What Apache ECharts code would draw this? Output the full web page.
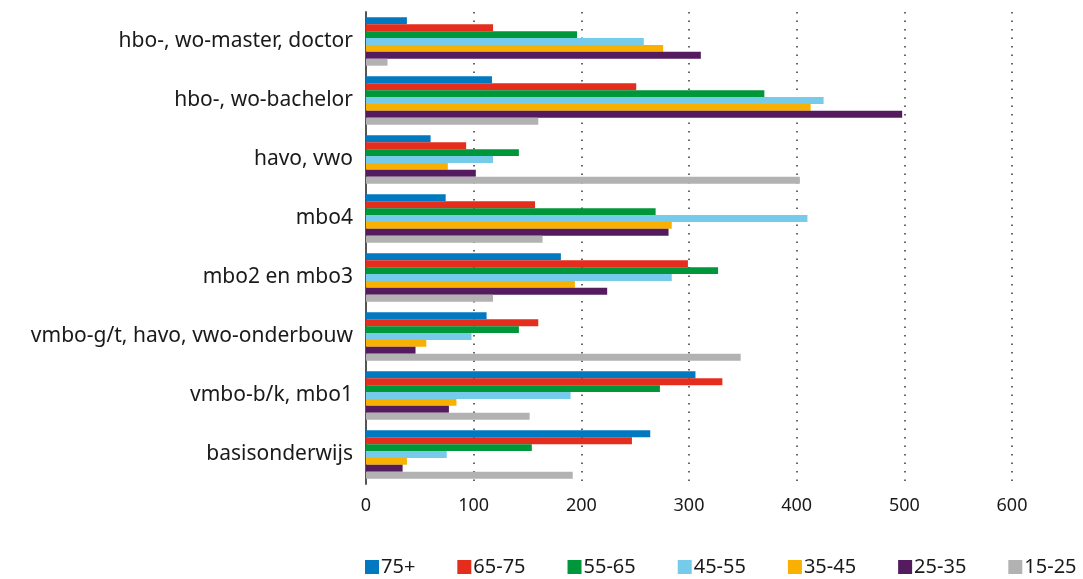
<!DOCTYPE html>
<html>
<head>
<meta charset="utf-8">
<script src="https://cdn.jsdelivr.net/npm/echarts@6/dist/echarts.min.js"></script>
<style>
  html, body { margin: 0; padding: 0; background: #fff; }
  #chart { width: 1083px; height: 579px; }
</style>
</head>
<body>
<div id="chart"></div>
<script>
  // categories, top to bottom
  let categories = ['hbo-, wo-master, doctor', 'hbo-, wo-bachelor', 'havo, vwo', 'mbo4',
    'mbo2 en mbo3', 'vmbo-g/t, havo, vwo-onderbouw', 'vmbo-b/k, mbo1', 'basisonderwijs'];
  let xTicks = [0, 100, 200, 300, 400, 500, 600];

  let age75plus = [38, 117, 60, 74, 181, 112, 306, 264];
  let age65_75 = [118, 251, 93, 157, 299, 160, 331, 247];
  let age55_65 = [196, 370, 142, 269, 327, 142, 273, 154];
  let age45_55 = [258, 425, 118, 410, 284, 98, 190, 75];
  let age35_45 = [276, 413, 76, 284, 194, 56, 84, 38];
  let age25_35 = [311, 498, 102, 281, 224, 46, 77, 34];
  let age15_25 = [20, 160, 403, 164, 118, 348, 152, 192];

  let seriesDefs = [
    {name: '75+', color: '#0079c1', data: age75plus},
    {name: '65-75', color: '#e52d1d', data: age65_75},
    {name: '55-65', color: '#00963a', data: age55_65},
    {name: '45-55', color: '#77cbea', data: age45_55},
    {name: '35-45', color: '#f9b000', data: age35_45},
    {name: '25-35', color: '#541b5f', data: age25_35},
    {name: '15-25', color: '#b2b2b2', data: age15_25}
  ];

  let font = 'Noto Sans';

  let option = {
    animation: false,
    grid: {left: 366, right: 71, top: 12, bottom: 95},
    legend: {
      top: 552,
      left: 360,
      itemWidth: 14,
      itemHeight: 14,
      itemGap: 42,
      icon: 'rect',
      textStyle: {fontFamily: font, fontSize: 20, color: '#1a1a1a', padding: [0, 0, 0, -3]},
      data: seriesDefs.map(s => s.name)
    },
    xAxis: {
      type: 'value',
      min: xTicks[0],
      max: xTicks[xTicks.length - 1],
      interval: 100,
      axisLine: {show: false},
      axisTick: {show: false},
      axisLabel: {fontFamily: font, fontSize: 18, color: '#1a1a1a', margin: 13},
      splitLine: {show: true, lineStyle: {color: '#333', width: 1.5, type: [1.5, 7]}}
    },
    yAxis: {
      type: 'category',
      inverse: true,
      data: categories,
      axisLine: {show: true, lineStyle: {color: '#555', width: 2}},
      axisTick: {show: false},
      axisLabel: {fontFamily: font, fontSize: 21, color: '#1a1a1a', margin: 13}
    },
    series: seriesDefs.map(s => ({
      name: s.name,
      type: 'bar',
      data: s.data,
      barGap: '0%',
      barCategoryGap: '18%',
      itemStyle: {color: s.color}
    }))
  };

  let chart = echarts.init(document.getElementById('chart'));
  chart.setOption(option);
</script>
</body>
</html>
